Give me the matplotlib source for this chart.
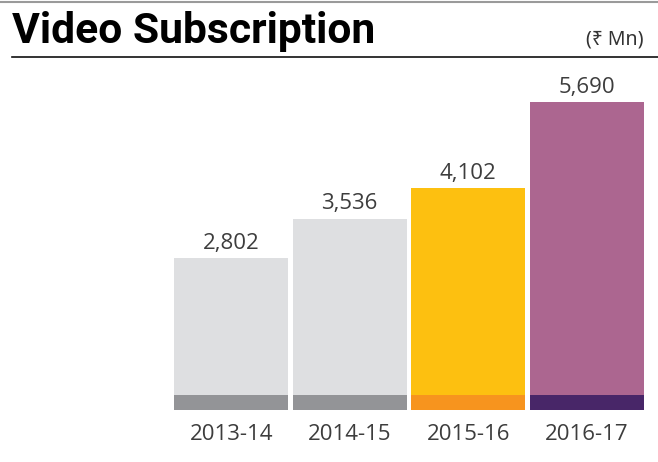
import matplotlib
matplotlib.use("Agg")
import matplotlib.pyplot as plt
from matplotlib.lines import Line2D

# data
years = ["2013-14", "2014-15", "2015-16", "2016-17"]
values = [2802, 3536, 4102, 5690]
top_colors = ["#dedfe1", "#dedfe1", "#fdc010", "#ac6690"]
base_colors = ["#939497", "#939497", "#f7941e", "#482668"]

W, H = 658, 462
fig = plt.figure(figsize=(W / 100, H / 100), dpi=100)

# bars area
ax = fig.add_axes([172 / W, (H - 410) / H, 474 / W, 308 / H])
x = range(len(years))
strip = 5690 * 15 / 308
ax.bar(x, values, width=0.96, color=top_colors)
ax.bar(x, [strip] * len(years), width=0.96, color=base_colors)
for i, v in zip(x, values):
    ax.text(i, v + 80, f"{v:,}", ha="center", va="bottom",
            fontsize=16, color="#3d3d3d", family="Open Sans")
ax.set_xlim(-0.5, len(years) - 0.5)
ax.set_ylim(0, max(values))
ax.set_xticks(list(x))
ax.set_xticklabels(years, fontsize=16, color="#3d3d3d", family="Open Sans")
ax.tick_params(axis="x", length=0, pad=10)
ax.set_yticks([])
for s in ax.spines.values():
    s.set_visible(False)

# header
fig.add_artist(Line2D([0, 1], [1 - 1.5 / H, 1 - 1.5 / H], color="#9a9a9a", lw=1.5))
fig.add_artist(Line2D([12 / W, 1], [1 - 57 / H, 1 - 57 / H], color="#111111", lw=1.2))
fig.text(12 / W, 1 - 43 / H, "Video Subscription", fontsize=30.7, fontweight="bold",
         family="Roboto", color="#000000", va="baseline")
fig.text(644 / W, 1 - 44 / H, "(₹ Mn)", fontsize=14, family=["Noto Sans", "DejaVu Sans"],
         color="#333333", ha="right", va="baseline")

fig.savefig("out.png", dpi=100)
